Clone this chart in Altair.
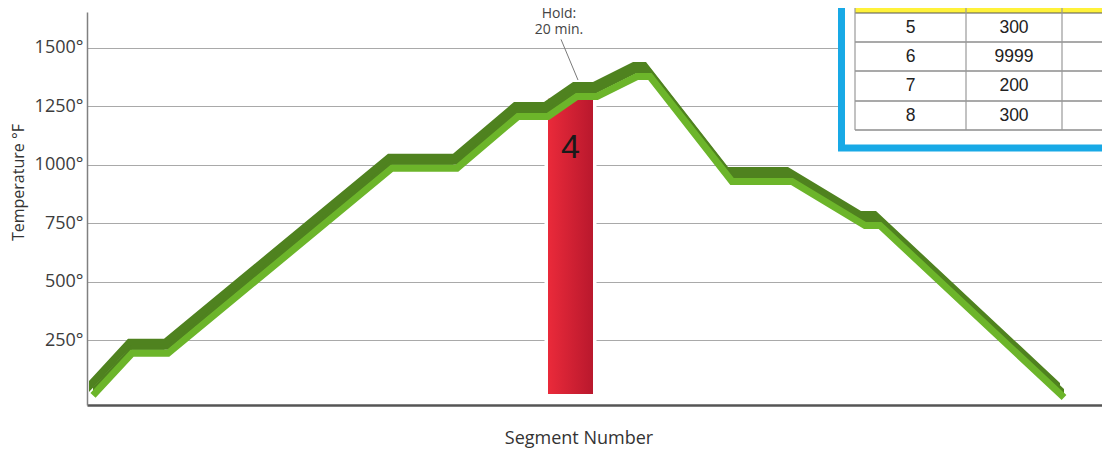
import altair as alt
import pandas as pd

# ---- data ----
# firing profile: time (minutes) and temperature (°F) of each segment corner
seg_minutes = [6, 45, 81, 305, 370, 431, 461, 490, 510, 550, 563, 645, 705, 778, 793, 977]
seg_temps = [28, 208, 208, 1000, 1000, 1221, 1221, 1307, 1307, 1392, 1392, 943, 943, 755, 755, 19]

# highlighted segment bar
bar_start = [461]
bar_end = [506]
bar_low = [19]
bar_high = [1282]
bar_label = ["4"]
bar_label_x = [483.5]
bar_label_temp = [1073]

# hold annotation
hold_text = ["Hold:", "20 min."]
hold_x = [472, 472]
hold_temp = [1643, 1574]
leader_x = [474]
leader_x2 = [491]
leader_temp = [1536]
leader_temp2 = [1362]

y_ticks = [250, 500, 750, 1000, 1250, 1500]

# program table (inset)
table_segment = ["4", "5", "6", "7", "8"]
table_rate = ["250", "300", "9999", "200", "300"]
table_temp = ["1300", "1400", "950", "800", "100"]

# ---- layout constants (pixels inside the plot area) ----
W, H = 1015, 393
COL_EDGES = [768, 879, 975, 1093]
ROW_EDGES = [-28.5, 1, 30, 59, 89, 118]
BOX_LEFT, BOX_BOTTOM = 754.5, 136

FONT = "Open Sans"

profile = pd.DataFrame({"minute": seg_minutes, "temp": seg_temps})
bar_df = pd.DataFrame({"x": bar_start, "x2": bar_end, "lo": bar_low, "hi": bar_high})
lab_df = pd.DataFrame({"x": bar_label_x, "t": bar_label_temp, "label": bar_label})
hold_df = pd.DataFrame({"x": hold_x, "t": hold_temp, "text": hold_text})
lead_df = pd.DataFrame({"x": leader_x, "x2": leader_x2, "t": leader_temp, "t2": leader_temp2})

xscale = alt.Scale(domain=[0, W], nice=False, zero=False)
yscale = alt.Scale(domain=[-28, 1653], nice=False, zero=False)

xaxis = alt.Axis(labels=False, ticks=False, grid=False, domainColor="#555555", domainWidth=2.5,
                 title="Segment Number", titleFont=FONT, titleFontSize=18, titleFontWeight="normal",
                 titleColor="#333333", titleX=491.5, titleY=38, titleAlign="center",
                 titleBaseline="alphabetic")
yaxis = alt.Axis(values=y_ticks, labelExpr="datum.value + '°'", grid=True, gridColor="#a9a9a9",
                 gridWidth=1, domainColor="#808080", domainWidth=1.5, ticks=False, labelPadding=4,
                 labelFont=FONT, labelFontSize=18, labelColor="#3c3c3c",
                 title="Temperature °F", titleFont=FONT, titleFontSize=16, titleFontWeight="normal",
                 titleColor="#333333", titleX=-69, titleY=170, titleAngle=-90,
                 titleAlign="center", titleBaseline="middle")

halo = alt.Chart(bar_df).mark_bar(color="white", stroke="white", strokeWidth=7).encode(
    x=alt.X("x:Q", scale=xscale, axis=xaxis),
    x2="x2:Q",
    y=alt.Y("lo:Q", scale=yscale, axis=yaxis),
    y2="hi:Q",
)
red = alt.Chart(bar_df).mark_bar(
    color=alt.Gradient(gradient="linear", x1=0, x2=1, y1=0, y2=0,
                       stops=[alt.GradientStop(color="#ea2a3a", offset=0),
                              alt.GradientStop(color="#b9182d", offset=1)])
).encode(x="x:Q", x2="x2:Q", y="lo:Q", y2="hi:Q")

DARK = "#4f821f"
LIGHT = "#6cb52a"
# top face of the ribbon: shifted copy plus a thin unshifted fill
dark = alt.Chart(profile).mark_area(color=DARK, xOffset=-4, yOffset=-11, y2Offset=0).encode(
    x="minute:Q", y="temp:Q", y2="temp:Q")
dark_fill = alt.Chart(profile).mark_area(color=DARK, yOffset=-5, y2Offset=0).encode(
    x="minute:Q", y="temp:Q", y2="temp:Q")
# front face of the ribbon
light = alt.Chart(profile).mark_line(color=LIGHT, strokeWidth=7, yOffset=3.5,
                                     strokeJoin="miter", strokeCap="butt").encode(
    x="minute:Q", y="temp:Q")

label4 = alt.Chart(lab_df).mark_text(font="Liberation Sans", fontSize=34, color="#1a1a1a",
                                      baseline="middle", align="center").encode(
    x="x:Q", y="t:Q", text="label:N")

leader = alt.Chart(lead_df).mark_rule(color="#7a7a7a", strokeWidth=1).encode(
    x="x:Q", x2="x2:Q", y="t:Q", y2="t2:Q")
hold = alt.Chart(hold_df).mark_text(font=FONT, fontSize=14, color="#444444",
                                    baseline="middle", align="center").encode(
    x="x:Q", y="t:Q", text="text:N")

# ---- inset table ----
box_df = pd.DataFrame({"x": [BOX_LEFT], "x2": [W + 60], "y": [-40], "y2": [BOX_BOTTOM]})
box = alt.Chart(box_df).mark_rect(fill="white", stroke="#18a9e6", strokeWidth=7).encode(
    x=alt.X("x:Q", scale=None), x2="x2:Q", y=alt.Y("y:Q", scale=None), y2="y2:Q")

rows_df = pd.DataFrame({
    "y": ROW_EDGES[:-1], "y2": ROW_EDGES[1:],
    "x": [COL_EDGES[0]] * 5, "x2": [COL_EDGES[-1]] * 5,
    "fill": ["#fff23a", "white", "white", "white", "white"],
})
rows = alt.Chart(rows_df).mark_rect().encode(
    x=alt.X("x:Q", scale=None), x2="x2:Q", y=alt.Y("y:Q", scale=None), y2="y2:Q",
    color=alt.Color("fill:N", scale=None))

hl_df = pd.DataFrame({"y": ROW_EDGES[1:], "x": [COL_EDGES[0]] * 5, "x2": [COL_EDGES[-1]] * 5})
hlines = alt.Chart(hl_df).mark_rule(color="#555555", strokeWidth=1.2).encode(
    x=alt.X("x:Q", scale=None), x2="x2:Q", y=alt.Y("y:Q", scale=None))
vl_df = pd.DataFrame({"x": COL_EDGES, "y": [ROW_EDGES[0]] * 4, "y2": [ROW_EDGES[-1]] * 4})
vlines = alt.Chart(vl_df).mark_rule(color="#999999", strokeWidth=1.2).encode(
    x=alt.X("x:Q", scale=None), y=alt.Y("y:Q", scale=None), y2="y2:Q")

cells = []
for i in range(5):
    yc = (ROW_EDGES[i] + ROW_EDGES[i + 1]) / 2
    for j, col in enumerate([table_segment, table_rate, table_temp]):
        xc = (COL_EDGES[j] + COL_EDGES[j + 1]) / 2
        cells.append({"x": xc, "y": yc, "text": col[i]})
cells_df = pd.DataFrame(cells)
cell_text = alt.Chart(cells_df).mark_text(font="Liberation Sans", fontSize=17.5, color="#222222",
                                          baseline="middle", align="center").encode(
    x=alt.X("x:Q", scale=None), y=alt.Y("y:Q", scale=None), text="text:N")

chart = alt.layer(
    halo, red, dark, dark_fill, light, label4, leader, hold, box, rows, hlines, vlines, cell_text
).properties(
    width=W, height=H,
    autosize=alt.AutoSizeParams(type="none"),
    padding={"left": 79, "top": 4, "right": 0, "bottom": 44},
).configure_view(stroke=None)

chart.save("out.html", embed_options={"renderer": "svg", "actions": False})
